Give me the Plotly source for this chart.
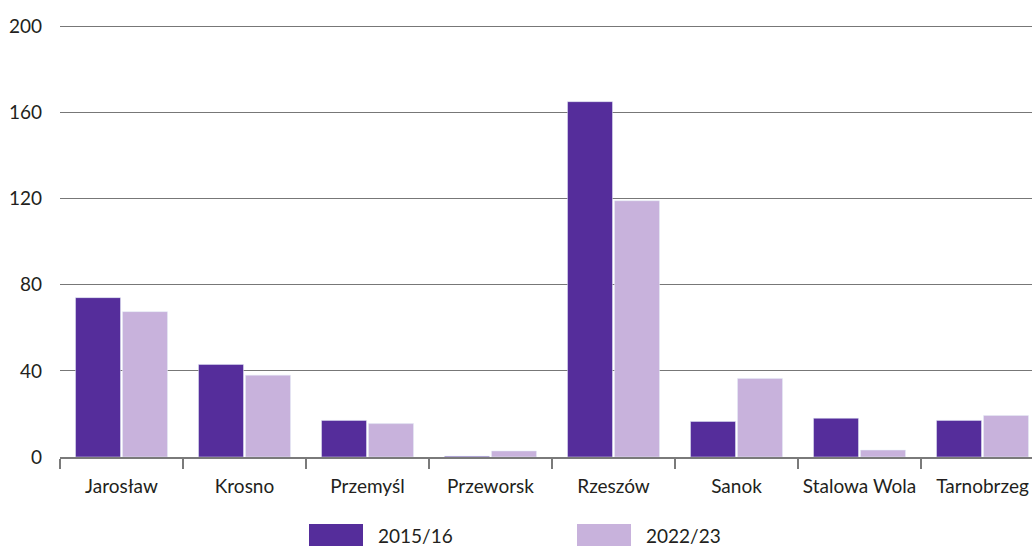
import plotly.graph_objects as go

# dane
cities = ["Jarosław", "Krosno", "Przemyśl", "Przeworsk", "Rzeszów", "Sanok", "Stalowa Wola", "Tarnobrzeg"]
s2015 = [74, 43, 17, 0.4, 165, 16.5, 18, 17]
s2022 = [67.5, 38, 15.5, 2.8, 119, 36.5, 3.2, 19.3]
series_names = ["2015/16", "2022/23"]
y_ticks = [0, 40, 80, 120, 160, 200]

dark = "#552d9b"
light = "#c8b2dc"
font_col = "#231f20"

fig = go.Figure()
fig.add_trace(go.Bar(x=cities, y=s2015, name=series_names[0], marker_color=dark, showlegend=False))
fig.add_trace(go.Bar(x=cities, y=s2022, name=series_names[1], marker_color=light, showlegend=False))

fig.update_layout(
    width=1032, height=546,
    margin=dict(l=60, r=0, t=25, b=89),
    plot_bgcolor="white", paper_bgcolor="white",
    barmode="group", bargap=0.236, bargroupgap=0.043,
    font=dict(family="Lato, Noto Sans, sans-serif", size=19, color=font_col),
)
fig.update_xaxes(
    range=[-0.5, 7.5 - 12 / 123],
    showgrid=False, showline=True, linecolor="#7a7a7a", linewidth=1.5,
    ticks="outside", tickson="boundaries", ticklen=10, tickcolor="#7a7a7a", tickwidth=1.5,
    ticklabelstandoff=11,
)
fig.update_yaxes(
    range=[0, 200.6], tickvals=y_ticks,
    showgrid=True, gridcolor="#777777", gridwidth=1.2,
    zeroline=False, showline=False, ticks="", ticklabelstandoff=17,
)

# legenda (prostokąty + tekst)
legend_items = [(series_names[0], dark, 309), (series_names[1], light, 577)]
for name, col, x0 in legend_items:
    fig.add_shape(type="rect", xref="paper", yref="paper",
                  x0=(x0 - 60) / 972, x1=(x0 + 54 - 60) / 972,
                  y0=-(560 - 457) / 432, y1=-(524 - 457) / 432,
                  fillcolor=col, line_width=0, layer="above")
    fig.add_annotation(xref="paper", yref="paper", x=(x0 + 68 - 60) / 972, y=-(535 - 457) / 432,
                       text=name, showarrow=False, xanchor="left", yanchor="middle",
                       font=dict(size=19, color=font_col), borderpad=0)

# bez marginesu strony, żeby figura wypełniła okno
fig.write_html("out.html", config={"displayModeBar": False},
               post_script="document.body.style.margin='0';document.body.style.overflow='hidden';")
